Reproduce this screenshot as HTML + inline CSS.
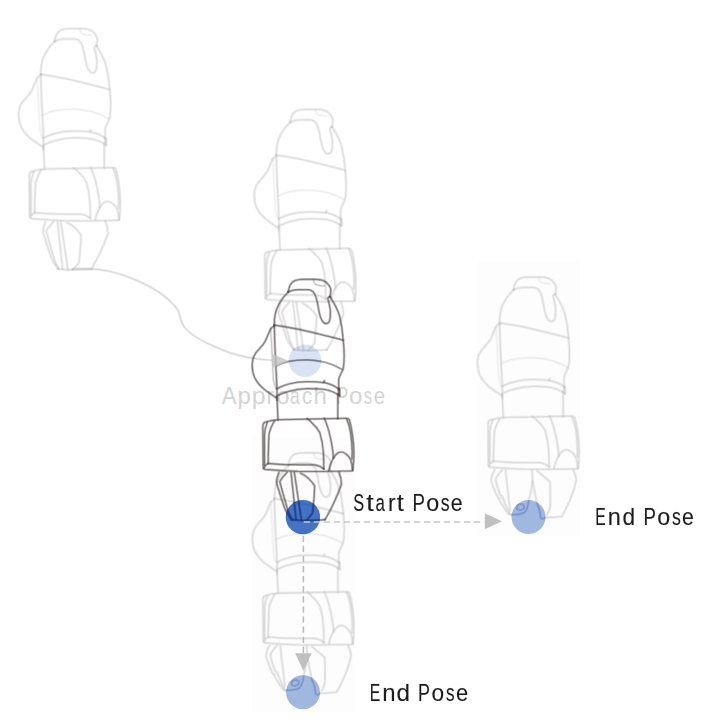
<!DOCTYPE html>
<html>
<head>
<meta charset="utf-8">
<style>
html,body{margin:0;padding:0;background:#ffffff;}
body{width:717px;height:720px;overflow:hidden;position:relative;font-family:"Liberation Sans",sans-serif;}
svg{position:absolute;left:0;top:0;}
.hl{opacity:.4}
.fl{opacity:.35}
.md{opacity:.5}
</style>
</head>
<body>
<svg width="717" height="720" viewBox="0 0 717 720">
<defs>
<g id="body" fill="none" stroke-linecap="round" stroke-linejoin="round">
  <!-- cap -->
  <path d="M54.8,41.2 C55.2,38 56.2,34.5 57.8,32.6 C59.8,30.3 63.5,28.9 67.5,28.7 L82.5,28.7 C87.5,28.7 92,30.3 94.3,33.2 C96.5,35.8 97.6,38.5 97.3,40.3 L96.5,46"/>
  <path class="hl" d="M80,29.2 C80.3,31.5 80.8,32.6 81.6,33.1 C83,34.2 84.5,34.6 85.8,34.8 C87.5,35.1 89.2,35.2 90.9,35.2"/>
  <!-- cap bottom edge + drip -->
  <path d="M54.8,41.2 C58,39.7 61,39 64.4,39 L75,39 C79,39.2 81,42 82.5,46.4 C83.8,50.5 84.6,55 85.2,59.1 C86,63.5 87,67.5 88.8,70.2 C89.8,72 91,72.9 92.4,72.9 C94.3,72.9 95.6,71.8 96.1,70 C96.9,67 97,64 96.9,60.9 C96.7,56.5 95.4,52 94.4,48.2 C94.3,47 95,46.3 96.5,46"/>
  <!-- upper body -->
  <path d="M55,40.9 C48,48 43,56 41.7,63.5 C41,67 40.8,71 40.8,74.4"/>
  <path d="M96.5,46 C100.5,52 104.2,59 106.1,65.3 C108,73 109.2,82 109.7,88.9 C110.3,95 110.8,101 110.6,107 C110.5,111 110.3,115 109.7,117.9 C108.5,122 105.5,125.5 105.2,128.8 L105.2,143.3"/>
  <!-- diagonal band -->
  <path d="M40.8,74.4 C49,75.5 57,77 64.4,78.4 C74,80.4 83,82.6 91.6,84.9 C98,86.3 104,87.9 109.7,89.5"/>
  <!-- left bump -->
  <path d="M40.8,75.3 C39.5,76 38,77 37.2,78 C35,82.5 33.5,87 31.5,91 C29,95.5 25,98.5 22.5,102 C20,105.5 18.7,110 18.7,114.3 C18.7,119 19.5,123.5 21.2,127 C23.3,131.5 26.5,135 30.2,138.2 C34,141.3 38.5,144.2 42.6,146.9"/>
  <path class="fl" d="M37.2,78 C37.8,89 38.5,100 39,110.7 C39.3,117 39.5,123 39.9,128.8 C40.3,132.5 41.3,135.5 42.6,137.9"/>
  <path d="M40.8,74.4 C41,83.5 41.3,92.5 41.7,101.6 C42.2,113.7 42.8,125.8 43.5,137.9 L43.5,149.6"/>
  <!-- middle curve -->
  <path class="md" d="M42.3,115.2 C46.5,113.3 51,111.7 55.3,110.7 C61,109.6 67,109.2 73.5,109.2 C80,109.3 86,110.2 91.6,111.6 C98,113.3 104,116 108.8,118.8"/>
  <!-- ring -->
  <path d="M43.5,137.9 C47,136 51,134.4 55.3,133.3 C61,131.8 67,131 73.5,131 C80,131 86,131.3 91.6,132.1 C97,133.2 102,135.7 106.1,138.8"/>
  <path d="M43.5,145.1 C47,143.3 51,141.7 55.3,140.6 C61,139 67,138 73.5,137.9 C80,137.8 86,138 91.6,138.8 C97,139.8 102,142 106.1,145.1"/>
  <path d="M105.2,138 C106.3,139.5 106.5,143 106.1,145.1"/>
  <path d="M90.3,131.3 L91,130"/>
  <!-- neck -->
  <path d="M43.5,146.3 L44.5,169"/>
  <path d="M104.3,143.6 L104.3,168"/>
  <!-- box -->
  <path d="M29.3,176 C29.3,173.3 30,172 31.8,171.4 C36,170.1 41,169.3 46.3,169 L113,167.6 C114.5,167.6 115.3,168 115.8,169 C117.3,173.5 118.3,178.5 118.9,183.7 C119.8,189.7 120.4,195.7 120.4,201.8 C120.5,207.8 120.1,213.5 119.3,219.3 C119.2,220 118.8,220.3 118,220.3 L89.8,220.8 L64.4,220.7 C53.5,220.3 42.5,219.6 31.5,218.7 C30.3,218.5 29.8,217.8 29.7,216.8 L29.3,176"/>
  <path d="M41,170.1 C38.5,174.5 36.2,179 35.5,183.7 C35,193 34.8,203 34.6,212.7"/>
  <path d="M30.5,217.3 C31.8,214.8 33,213.3 34.6,212.7 C42,213.4 49,213.9 56,214 C64.5,214.2 73,214 81.5,214.2 C85,214.8 88,216.3 90.3,218.3"/>
  <path d="M33.7,171.9 C32.3,175.5 31.2,179.5 31,183.7 L31,214.5"/>
  <path d="M73.6,167.9 C75.6,169.3 77.4,170.9 79,172.8 C82,175.5 84.5,178.5 86.3,181.9 C88.3,188.4 89.5,195.1 89.9,201.8 C90.2,207 90.3,212.2 90.3,218.3"/>
  <path d="M90.8,167.6 C92.6,171.7 94.1,175.9 95.3,180.1 C96.9,186.1 98.2,192.1 99,198.2 C99.5,201.2 99.8,204.2 99.9,207.3"/>
  <path d="M95.3,219.6 C96,215.8 97.2,212.2 99,209.1 C100.7,205.8 102.7,203 105.3,201.8 C107.5,200.9 109.8,201.3 111.7,202.7 C114.2,204.2 116,206.5 117.1,209.1 C118.3,212.3 118.9,215.8 119.1,219.5"/>
  <path d="M113.3,168.5 C115,172.5 116.2,177 117,181.5 C118,188 118.6,195 118.7,201.8 L118.4,208"/>
</g>
<g id="gripC" fill="none" stroke-linecap="round" stroke-linejoin="round">
  <!-- gripper -->
  <path d="M45.4,221.7 C44,225 43,228.5 43,231.7 C45.5,241 48.5,250 51.7,258.9 C53.5,262.5 55.6,265.8 58,268.9"/>
  <path d="M53.5,221.7 C50.8,224.5 48.2,227.5 46.3,230.8 C49,241.5 52,252 55.3,262.5 C56.4,264.7 57.7,266.9 59,268.9"/>
  <path d="M57.5,221.7 L62.6,268.9"/>
  <path d="M60.8,221.7 L68,269.8"/>
  <path d="M67.1,222.6 C69.8,223.8 72.2,225.3 74.4,227.2 C77,229.5 79.4,232.2 81.1,235.3 C81,244.5 80.2,253.5 78.9,262.5 C77,265.2 74.9,267.6 72.6,269.8"/>
  <path d="M105.5,221.5 C107,225.5 107.9,229.5 108,233.5 C105.7,240.3 102.8,247 99.7,253.5 C97.2,258.8 94.5,263.9 91.5,268.9"/>
  <path d="M58,268.9 C62,269.4 66,269.7 69.8,269.8 C77,269.8 84.3,269.4 91.5,268.9"/>
</g>
<g id="gripO" fill="none" stroke-linecap="round" stroke-linejoin="round">
  <!-- open gripper -->
  <path d="M35.9,221.2 C34,224.5 32.6,228 32.3,231.7 C33.5,236.8 35.5,241.5 37.7,246.2 C39,249 40.2,251 41.2,249.9 M37.7,246.2 C40.2,251.2 43,256 46.2,260.7 C47.5,262.8 48.9,264.6 50.4,265.8 C51.2,266.1 52,266.2 52.9,266.2"/>
  <path d="M43.1,221.7 C40.5,224.5 38,227.5 36.8,230.8 C37.8,236.2 39.5,241.3 41.3,246.2 C42.1,246.9 42.9,247.6 43.7,248.2 C45.8,254.3 48.3,260.2 51.2,265.8"/>
  <path d="M46.8,221.7 C47.5,229.9 48.5,238 49.5,246.2 C50.2,251.6 50.8,257 51.3,262.5"/>
  <path d="M73.1,221.7 C73.6,225.6 73.8,229.5 73.6,233.5 C72.8,239.7 71.5,246 70.1,252 C69.7,254.2 69.3,256.3 68.8,258.2 C68,261 67,263 65.5,264.1 C62,265.6 57,266.2 52.9,266.2"/>
  <path d="M74,233.5 C74.5,236.2 75,238.9 75.5,241.5 C76.2,245.7 77,249.9 78,254 C78.7,256.3 79.5,258.6 80.5,260.7 C81.3,263.4 81.5,266.5 81.8,269.1 C82.2,270.2 83,270.5 83.9,270.4 C84.8,270.3 85.6,269.8 86.4,269.1"/>
  <path d="M78.5,222.6 C80.1,223.7 81.6,224.9 83,226.3 C85.9,228.5 88.7,230.9 91.2,233.5 C91.5,240.8 91.5,250 91.4,258.2 C90.6,261.2 89.5,264 88.1,266.6"/>
  <path d="M114.8,221.7 C116.2,224.9 117.2,228.3 117.5,231.7 C116.2,237.9 114.3,243.9 112,249.8 C109.3,256 106.3,262.1 103,268 C97.5,268.6 92,268.9 86.4,269.1"/>
  <ellipse cx="61.7" cy="258.7" rx="3.8" ry="2.9" transform="rotate(-15 61.7 258.7)"/>
</g>
<g id="loop" fill="none" stroke-linecap="round">
  <ellipse cx="61.7" cy="258.7" rx="3.8" ry="2.9" transform="rotate(-15 61.7 258.7)"/>
  <path d="M70.1,252 C69.7,254.2 69.3,256.3 68.8,258.2 C68,261 67,263 65.5,264.1 C62,265.6 57,266.2 52.9,266.2 L50.4,265.8"/>
  <path d="M75.5,241.5 C76.2,245.7 77,249.9 78,254 C78.7,256.3 79.5,258.6 80.5,260.7 C81.3,263.4 81.5,266.5 81.8,269.1 C82.2,270.2 83,270.5 83.9,270.4 C84.8,270.3 85.6,269.8 86.4,269.1"/>
</g>
<clipPath id="cpR"><circle cx="528.5" cy="517.1" r="17"/></clipPath>
<clipPath id="cpB"><circle cx="303" cy="692.2" r="17"/></clipPath>
<clipPath id="cpS"><circle cx="302.9" cy="517.1" r="17.2"/></clipPath>
<clipPath id="cpA"><circle cx="305" cy="360.75" r="16.3"/></clipPath>
<g id="robot"><use href="#body"/><use href="#gripC"/></g>
<g id="robotO"><use href="#body"/><use href="#gripO"/></g>
</defs>

<!-- faint image backgrounds -->
<rect x="478" y="261.3" width="101.7" height="274.7" fill="#fdfdfd"/>
<rect x="252" y="438" width="101.9" height="273.9" fill="#fdfdfd"/>

<!-- faint robots -->
<g stroke="#bebebe">
<g stroke-width="2.8" stroke-opacity=".25">
  <use href="#robot"/>
  <use href="#robot" transform="translate(235.5,80.8)"/>
  <use href="#robotO" transform="translate(233.6,424.2)"/>
  <use href="#robotO" transform="translate(458.8,248.5)"/>
</g>
<g stroke-width="1.2" stroke-opacity=".3">
  <use href="#robot"/>
  <use href="#robot" transform="translate(235.5,80.8)"/>
  <use href="#robotO" transform="translate(233.6,424.2)"/>
  <use href="#robotO" transform="translate(458.8,248.5)"/>
</g>
</g>

<!-- approach curve -->
<g fill="none" stroke="#b4b4b4"><path d="M71.7,268.7 C81,268.5 90,268.7 99,269.5 C113,271.5 126,275.5 138,281 C148,285.5 158,290.5 165.4,297 C172,302.5 177,307 179,312.5 C180.5,318 181,323.5 185,328 C191,334.5 199,339.5 208.4,343.7 C217,347.8 226,351.8 235.7,354.6 C247,357.8 259,359.6 272,360.3" stroke-width="2.6" stroke-opacity=".25"/><path d="M71.7,268.7 C81,268.5 90,268.7 99,269.5 C113,271.5 126,275.5 138,281 C148,285.5 158,290.5 165.4,297 C172,302.5 177,307 179,312.5 C180.5,318 181,323.5 185,328 C191,334.5 199,339.5 208.4,343.7 C217,347.8 226,351.8 235.7,354.6 C247,357.8 259,359.6 272,360.3" stroke-width="1.1" stroke-opacity=".35"/></g>

<!-- approach text (under dark robot) -->
<g opacity="0.99" font-size="23.5" fill="#d4d4d4" font-family="Liberation Sans, sans-serif">
<text transform="translate(221.69,403.7) scale(0.948,1)">A</text>
<text transform="translate(237.54,403.7) scale(1.021,1)">p</text>
<text transform="translate(251.78,403.7) scale(1.059,1)">p</text>
<text transform="translate(266.57,403.7) scale(0.936,1)">r</text>
<text transform="translate(276.57,403.7) scale(0.994,1)">o</text>
<text transform="translate(290.11,403.7) scale(0.743,1)">a</text>
<text transform="translate(301.99,403.7) scale(0.861,1)">c</text>
<text transform="translate(313.42,403.7) scale(1.023,1)">h</text>
<text transform="translate(335.92,403.7) scale(0.787,1)">P</text>
<text transform="translate(349.03,403.7) scale(1.030,1)">o</text>
<text transform="translate(363.70,403.7) scale(0.714,1)">s</text>
<text transform="translate(373.79,403.7) scale(0.860,1)">e</text>
</g>

<!-- vertical dashed line (under circle) -->
<line x1="303.4" y1="535.7" x2="303.4" y2="653" stroke="#b8b8b8" stroke-width="1.5" stroke-dasharray="6.2 3.9"/>
<polygon points="295.2,653.2 311.6,653.2 303.4,671" fill="#c0c0c0"/>

<!-- dark robot -->
<g stroke="#463e3e">
<g stroke-width="2.6" stroke-opacity=".3"><use href="#robot" transform="translate(233.5,250.7)"/></g>
<g stroke-width="1.2" stroke-opacity=".5"><use href="#robot" transform="translate(233.5,250.7)"/></g>
</g>

<path transform="translate(233.5,250.7)" d="M42.3,115.2 C46.5,113.3 51,111.7 55.3,110.7 C61,109.6 67,109.2 73.5,109.2 C80,109.3 86,110.2 91.6,111.6 C98,113.3 104,116 108.8,118.8" fill="none" stroke="#777" stroke-width="1.6" stroke-opacity=".45"/>
<!-- approach arrow + light circle (semi transparent over robot) -->
<polygon points="272.5,353.6 272.5,367.9 287.8,360.8" fill="#c0c0c0" fill-opacity="0.75"/>
<circle cx="305" cy="360.75" r="16.3" fill="#4472c4" fill-opacity="0.2"/>

<!-- circles -->
<circle cx="302.9" cy="517.1" r="17.2" fill="#0643b0" fill-opacity="0.75"/>
<circle cx="528.5" cy="517.1" r="17" fill="#4472c4" fill-opacity="0.5"/>
<circle cx="303" cy="692.2" r="17" fill="#4472c4" fill-opacity="0.5"/>

<g clip-path="url(#cpS)" stroke="#1d3a7c">
  <g stroke-width="2.4" stroke-opacity=".22"><use href="#gripC" transform="translate(233.5,250.7)"/></g>
  <g stroke-width="1.1" stroke-opacity=".5"><use href="#gripC" transform="translate(233.5,250.7)"/></g>
</g>
<g stroke="#5672b8" stroke-width="1.7" stroke-opacity="0.32">
  <g clip-path="url(#cpR)"><use href="#loop" transform="translate(458.8,248.5)"/></g>
  <g clip-path="url(#cpB)"><use href="#loop" transform="translate(233.6,424.2)"/></g>
</g>
<g clip-path="url(#cpA)" fill="none" stroke="#556" stroke-width="1.4" stroke-opacity="0.4">
  <path transform="translate(233.5,250.7)" d="M42.3,115.2 C46.5,113.3 51,111.7 55.3,110.7 C61,109.6 67,109.2 73.5,109.2 C80,109.3 86,110.2 91.6,111.6 C98,113.3 104,116 108.8,118.8"/>
</g>
<!-- horizontal dashed line -->
<line x1="303.8" y1="522" x2="484" y2="522" stroke="#c6c6c6" stroke-width="1.6" stroke-dasharray="6.3 3.7"/>
<polygon points="484.8,513.2 484.8,529.2 502,521.2" fill="#c0c0c0"/>

<!-- text -->
<g opacity="0.99" font-size="23.5" fill="#1a1a1a" stroke="#1a1a1a" stroke-opacity="0.2" stroke-width="0.6" font-family="Liberation Sans, sans-serif">
<text transform="translate(353.36,511.1) scale(0.696,1)">S</text>
<text transform="translate(366.19,511.1) scale(1.151,1)">t</text>
<text transform="translate(375.44,511.1) scale(0.718,1)">a</text>
<text transform="translate(388.12,511.1) scale(0.970,1)">r</text>
<text transform="translate(396.82,511.1) scale(1.085,1)">t</text>
<text transform="translate(412.50,511.1) scale(0.795,1)">P</text>
<text transform="translate(426.17,511.1) scale(0.994,1)">o</text>
<text transform="translate(440.87,511.1) scale(0.753,1)">s</text>
<text transform="translate(450.84,511.1) scale(0.906,1)">e</text>
<text transform="translate(595.34,525.2) scale(0.671,1)">E</text>
<text transform="translate(607.87,525.2) scale(1.001,1)">n</text>
<text transform="translate(622.49,525.2) scale(0.965,1)">d</text>
<text transform="translate(643.60,525.2) scale(0.795,1)">P</text>
<text transform="translate(657.27,525.2) scale(0.994,1)">o</text>
<text transform="translate(671.97,525.2) scale(0.753,1)">s</text>
<text transform="translate(681.94,525.2) scale(0.906,1)">e</text>
<text transform="translate(369.84,701.1) scale(0.671,1)">E</text>
<text transform="translate(382.14,701.1) scale(1.021,1)">n</text>
<text transform="translate(396.53,701.1) scale(1.031,1)">d</text>
<text transform="translate(418.06,701.1) scale(0.764,1)">P</text>
<text transform="translate(431.59,701.1) scale(0.968,1)">o</text>
<text transform="translate(446.08,701.1) scale(0.734,1)">s</text>
<text transform="translate(456.01,701.1) scale(0.933,1)">e</text>
</g>
</svg>
</body>
</html>
